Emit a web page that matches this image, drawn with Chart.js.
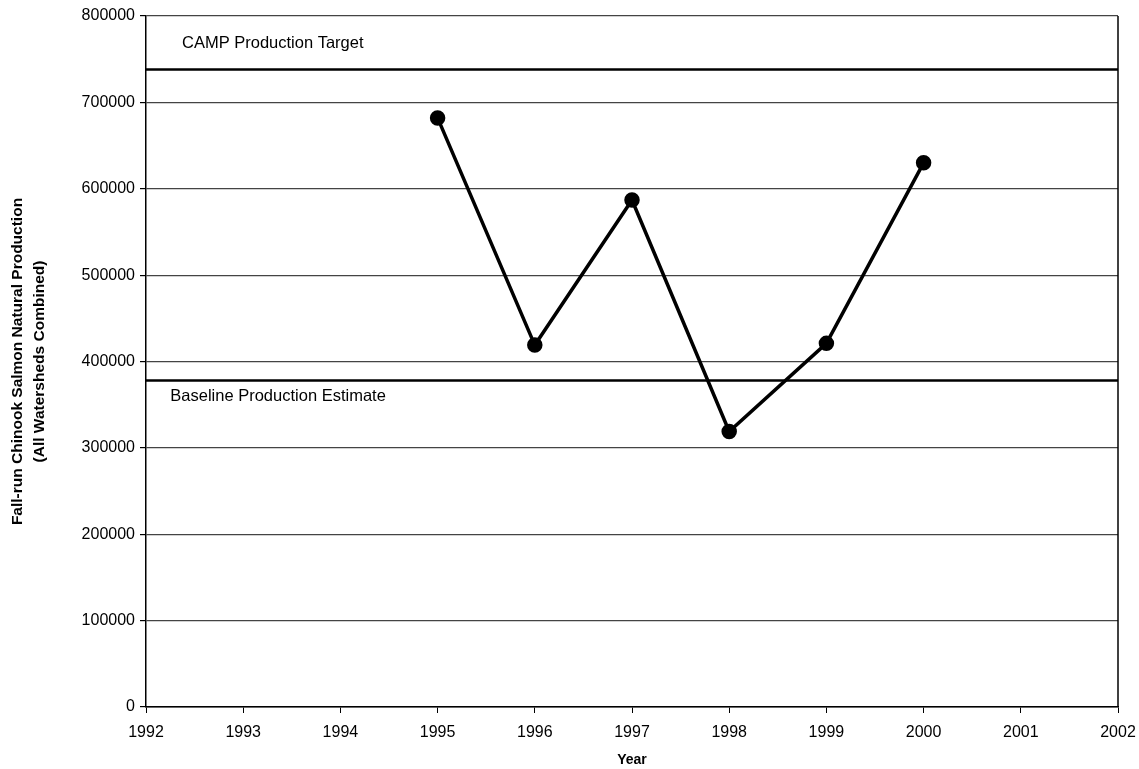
<!DOCTYPE html>
<html>
<head>
<meta charset="utf-8">
<script src="https://cdn.jsdelivr.net/npm/chart.js@4.4.0/dist/chart.umd.min.js"></script>
<style>
  html, body { margin: 0; padding: 0; background: #fff; }
  #myChart { display: block; }
</style>
</head>
<body>
<canvas id="myChart" width="1139" height="769"></canvas>
<script>
// data
const years = [1995, 1996, 1997, 1998, 1999, 2000]
const production = [682000, 419000, 587000, 319000, 421000, 630000]
const xRange = [1992, 2002]
const yTicks = [0, 100000, 200000, 300000, 400000, 500000, 600000, 700000, 800000]
const targetValue = 738000
const baselineValue = 378000
const targetLabel = 'CAMP Production Target'
const baselineLabel = 'Baseline Production Estimate'

const font = "'Liberation Sans', Arial, sans-serif"

// writes the two reference line labels
const refLabels = {
    id: 'refLabels',
    afterDatasetsDraw(chart) {
        const c = chart.ctx
        const x = chart.scales.x
        const y = chart.scales.y
        c.save()
        c.fillStyle = '#000'
        c.font = '16.5px ' + font
        c.textBaseline = 'middle'
        c.textAlign = 'left'
        c.fillText(targetLabel, x.getPixelForValue(1992.37), y.getPixelForValue(768000))
        c.fillText(baselineLabel, x.getPixelForValue(1992.25), y.getPixelForValue(359000))
        c.restore()
    }
}

// right-hand border of the plot
const frame = {
    id: 'frame',
    beforeDatasetsDraw(chart) {
        const a = chart.chartArea
        const c = chart.ctx
        c.save()
        c.strokeStyle = '#000'
        c.lineWidth = 1.5
        c.beginPath()
        c.moveTo(a.right, a.top)
        c.lineTo(a.right, a.bottom)
        c.stroke()
        c.restore()
    }
}

const ctx = document.getElementById('myChart').getContext('2d')
const myChart = new Chart(ctx, {
    type: 'line',
    data: {
        datasets: [{
            label: 'production',
            data: years.map((yr, i) => ({ x: yr, y: production[i] })),
            borderColor: '#000',
            backgroundColor: '#000',
            borderWidth: 3.5,
            pointRadius: 6,
            pointHoverRadius: 6,
            tension: 0
        }, {
            label: targetLabel,
            data: xRange.map(v => ({ x: v, y: targetValue })),
            borderColor: '#000',
            borderWidth: 2.5,
            pointRadius: 0
        }, {
            label: baselineLabel,
            data: xRange.map(v => ({ x: v, y: baselineValue })),
            borderColor: '#000',
            borderWidth: 2.5,
            pointRadius: 0
        }]
    },
    options: {
        responsive: false,
        animation: false,
        layout: { padding: { top: 16, right: 21, left: 0, bottom: 0 } },
        plugins: {
            legend: { display: false },
            tooltip: { enabled: false }
        },
        scales: {
            x: {
                type: 'linear',
                min: xRange[0],
                max: xRange[1],
                afterFit: (s) => { s.height = 62; s.paddingRight = 18; s.paddingLeft = 18 },
                ticks: {
                    stepSize: 1,
                    color: '#000',
                    padding: 10,
                    font: { family: font, size: 16 },
                    callback: (v) => String(v)
                },
                grid: {
                    drawOnChartArea: false,
                    drawTicks: true,
                    tickLength: 6,
                    color: '#000'
                },
                border: { color: '#000', width: 1.5 },
                title: {
                    display: true,
                    text: 'Year',
                    color: '#000',
                    font: { family: font, size: 14, weight: 'bold' },
                    padding: { top: 0, bottom: 0 }
                }
            },
            y: {
                min: 0,
                max: 800000,
                afterFit: (s) => { s.width = 146 },
                afterBuildTicks: (s) => { s.ticks = yTicks.map(v => ({ value: v })) },
                ticks: {
                    color: '#000',
                    padding: 5,
                    font: { family: font, size: 16 },
                    callback: (v) => String(v)
                },
                grid: {
                    color: '#444',
                    lineWidth: 1.2,
                    tickLength: 6,
                    tickColor: '#000'
                },
                border: { color: '#000', width: 1.5 },
                title: {
                    display: true,
                    text: ['Fall-run Chinook Salmon Natural Production', '(All Watersheds Combined)'],
                    color: '#000',
                    font: { family: font, size: 15.5, weight: 'bold', lineHeight: 1.42 },
                    padding: { top: 7, bottom: 0 }
                }
            }
        }
    },
    plugins: [frame, refLabels]
})
</script>
</body>
</html>
